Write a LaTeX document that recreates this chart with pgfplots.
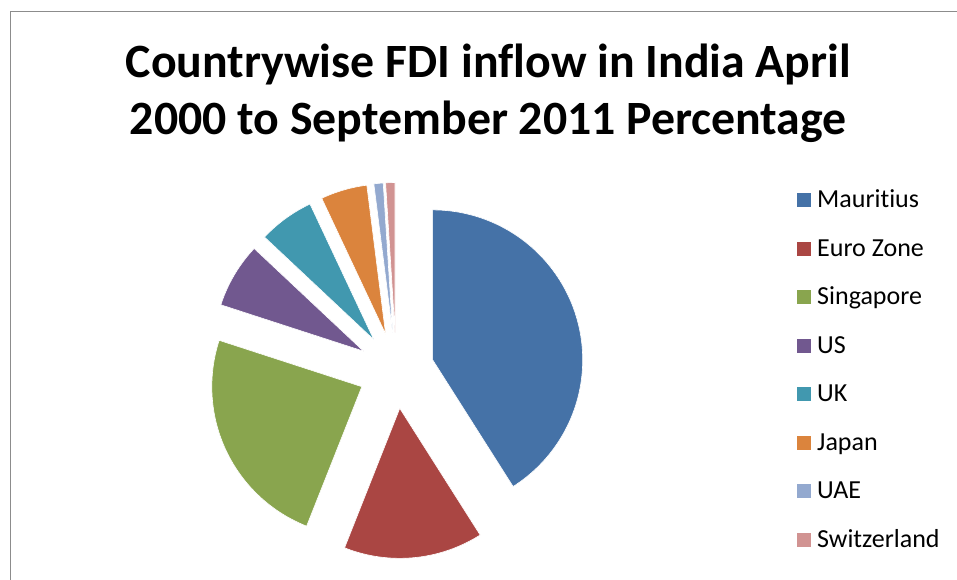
\documentclass[border=0pt]{standalone}
\usepackage{pgfplots}
\pgfplotsset{compat=1.18}
\usepackage{fontspec}
\setmainfont{Carlito}[Ligatures=NoCommon]
\definecolor{cMau}{HTML}{4572A7}
\definecolor{cEur}{HTML}{AA4643}
\definecolor{cSin}{HTML}{89A54E}
\definecolor{cUS}{HTML}{71588F}
\definecolor{cUK}{HTML}{4198AF}
\definecolor{cJap}{HTML}{DB843D}
\definecolor{cUAE}{HTML}{93A9CF}
\definecolor{cSwi}{HTML}{D19392}
\definecolor{frame}{HTML}{8C8C8C}
% pie geometry (pt): centre, radius, explosion offset
\def\cx{396.2}
\def\cy{-370.5}
\def\R{150}
\def\ex{38}
\def\cum{0}
\newcommand{\slice}[2]{% #1 = percentage, #2 = colour
  \pgfmathsetmacro\sa{\cum*3.6}%
  \pgfmathsetmacro\newcum{\cum+#1}%
  \xdef\cum{\newcum}%
  \pgfmathsetmacro\sb{\cum*3.6}%
  \pgfmathsetmacro\sm{(\sa+\sb)/2}%
  \pgfmathsetmacro\vx{\cx+\ex*sin(\sm)}%
  \pgfmathsetmacro\vy{\cy+\ex*cos(\sm)}%
  \edef\tmp{\noexpand\addplot[fill=#2, draw=white, line width=0.6pt,
     domain=\sa:\sb, samples=90, variable=\noexpand\t]
     ({\vx+\R*sin(\noexpand\t)},{\vy+\R*cos(\noexpand\t)}) -- (\vx,\vy) -- cycle;}%
  \tmp
}
\begin{document}
\begin{tikzpicture}
\useasboundingbox (0pt,0pt) rectangle (957pt,-580pt);
\clip (0pt,0pt) rectangle (957pt,-580pt);
\fill[white] (0pt,0pt) rectangle (957pt,-580pt);
\begin{axis}[
  at={(0pt,0pt)}, anchor=north west,
  x=1pt, y=1pt, scale only axis, hide axis, clip=false,
  xmin=0, xmax=957, ymin=-580, ymax=0,
  legend cell align=left,
  legend image code/.code={\fill[#1,draw=none] (0pt,0.5pt) rectangle (14pt,14.5pt);},
  legend style={at={(axis cs:797,-189.5)}, anchor=north west, draw=none, fill=none,
    inner sep=0pt, font=\fontsize{26}{30}\selectfont, row sep=25.5pt,
    nodes={inner sep=0pt, text height=18pt, text depth=5pt, anchor=base west},
    /tikz/every odd column/.append style={column sep=6pt}},
]
\slice{41}{cMau}
\addlegendentry{Mauritius}
\slice{15}{cEur}
\addlegendentry{Euro Zone}
\slice{24}{cSin}
\addlegendentry{Singapore}
\slice{7}{cUS}
\addlegendentry{US}
\slice{6}{cUK}
\addlegendentry{UK}
\slice{5}{cJap}
\addlegendentry{Japan}
\slice{1}{cUAE}
\addlegendentry{UAE}
\slice{1}{cSwi}
\addlegendentry{Switzerland}
\node[anchor=base, inner sep=0pt, font=\fontsize{47.8}{57}\selectfont\bfseries] at (axis cs:488.3,-77.3) {Countrywise FDI inflow in India April};
\node[anchor=base, inner sep=0pt, font=\fontsize{47.8}{57}\selectfont\bfseries] at (axis cs:488.3,-134.3) {2000 to September 2011 Percentage};
\end{axis}
\draw[frame, line width=1.5pt] (10.5pt,-11.5pt) rectangle (1000pt,-620pt);
\end{tikzpicture}
\end{document}
